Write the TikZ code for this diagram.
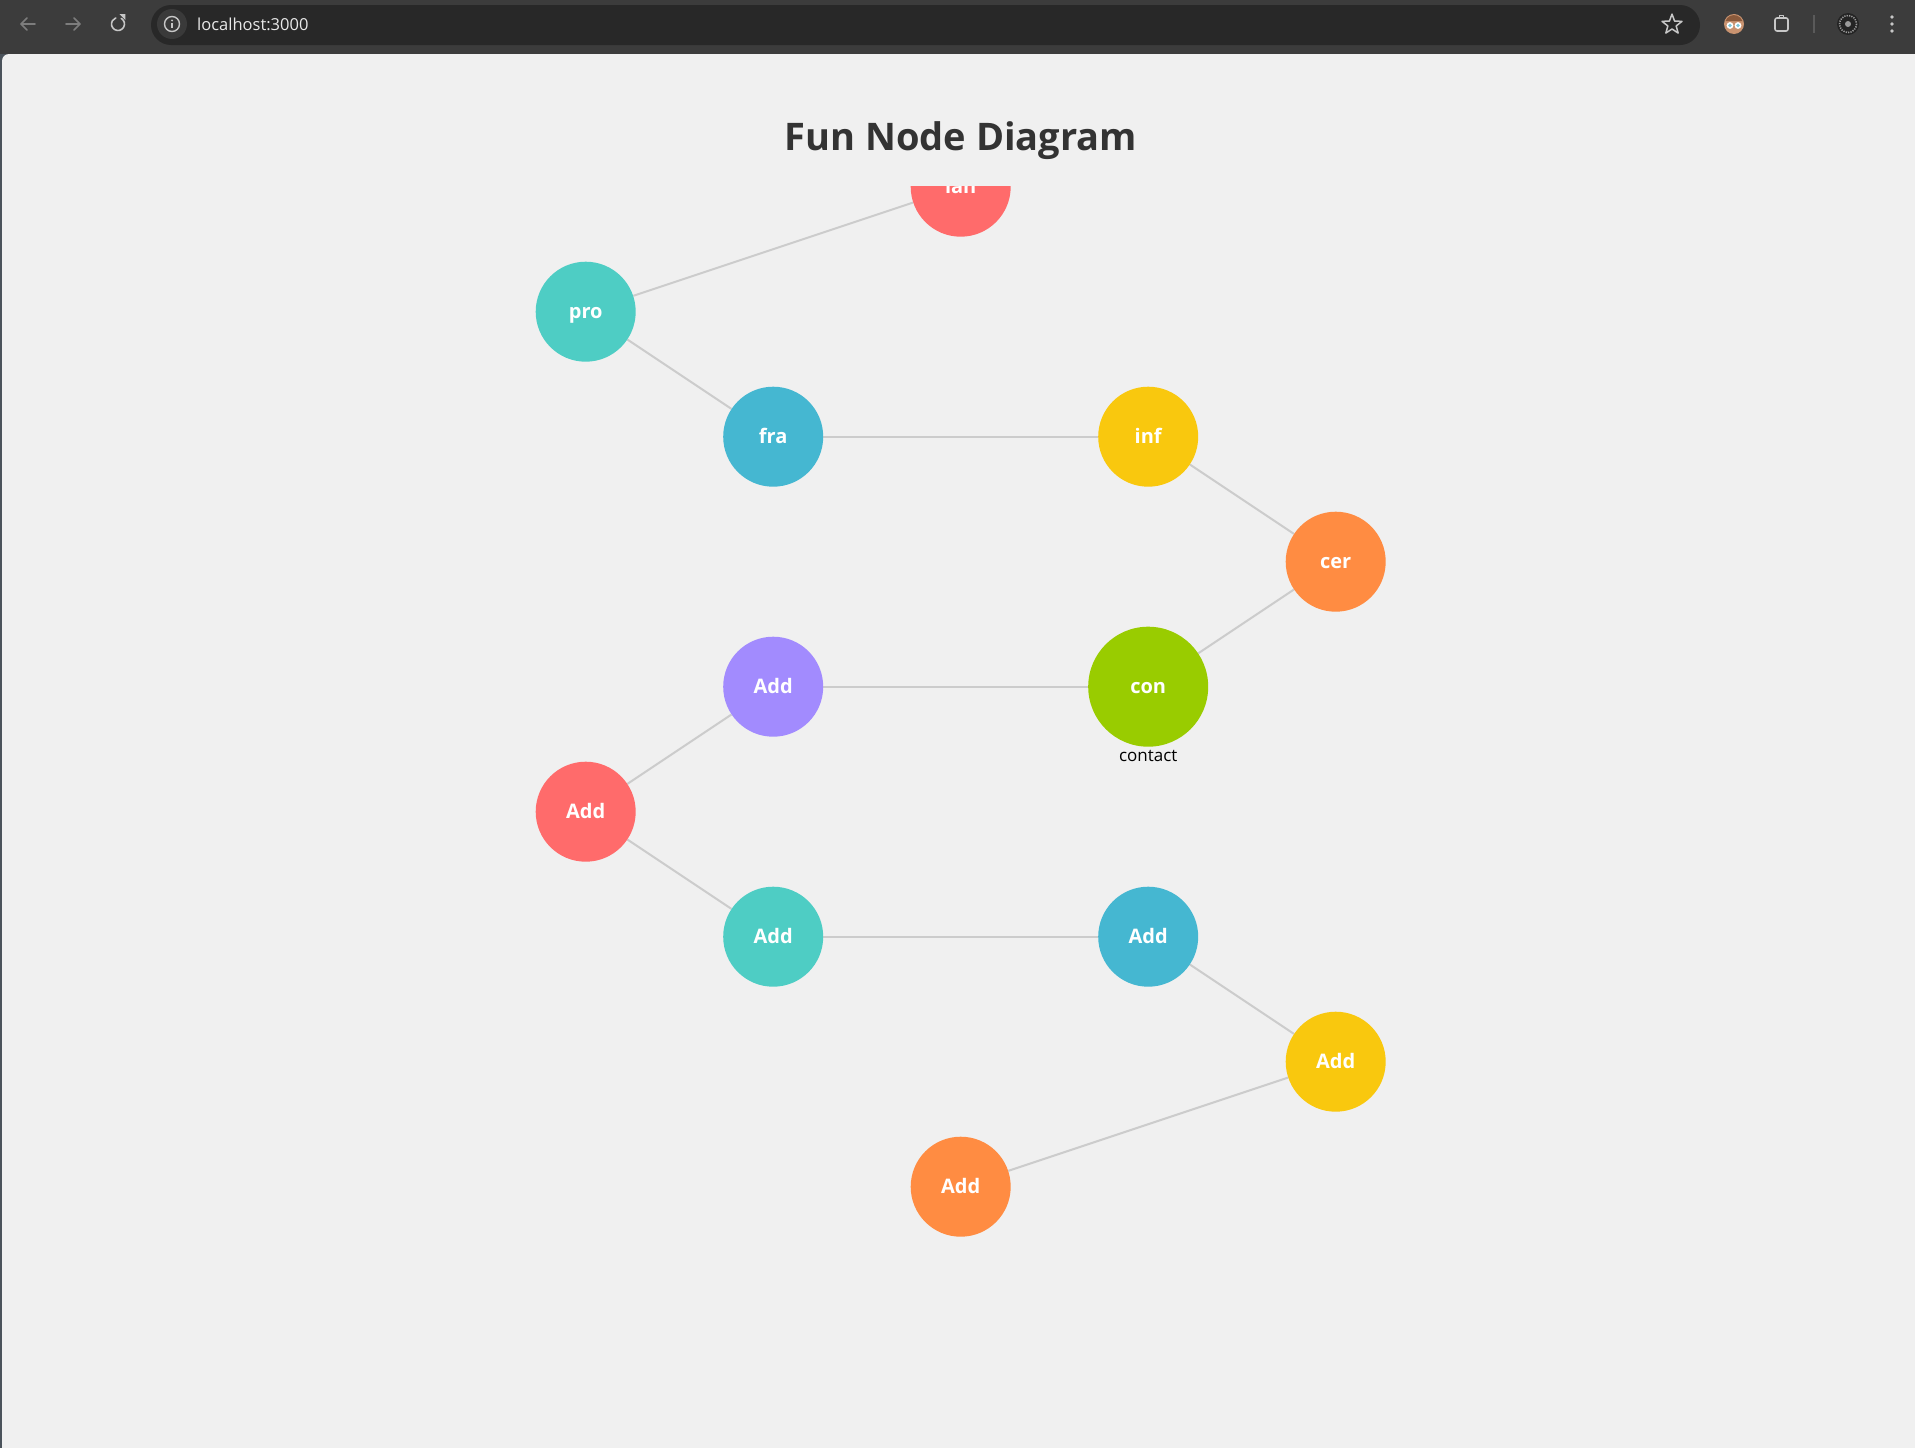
\documentclass[tikz,border=0pt]{standalone}
\usepackage{fontspec}
\setmainfont{Open Sans}
\usetikzlibrary{shapes.geometric}

% window chrome
\definecolor{chromebar}{HTML}{3C3C3C}
\definecolor{pillbg}{HTML}{282828}
\definecolor{infobg}{HTML}{3A3A3A}
\definecolor{icondim}{HTML}{7D7D7D}
\definecolor{iconlight}{HTML}{C7C7C7}
\definecolor{urltext}{HTML}{E8E8E8}
\definecolor{sepgray}{HTML}{5A5A5A}
\definecolor{frameedge}{HTML}{4B535B}
\definecolor{avatarskin}{HTML}{C99370}
\definecolor{avatarhair}{HTML}{8A5A3C}
\definecolor{lensblue}{HTML}{7FC6D8}
\definecolor{profiledark}{HTML}{242424}
\definecolor{profilering}{HTML}{9A9A9A}
% page
\definecolor{pagebg}{HTML}{F0F0F0}
\definecolor{titlegray}{HTML}{333333}
\definecolor{linkgray}{HTML}{CCCCCC}
% node fills
\definecolor{cred}{HTML}{FF6B6B}
\definecolor{cteal}{HTML}{4ECDC4}
\definecolor{cblue}{HTML}{45B7D1}
\definecolor{cyellow}{HTML}{F9C80E}
\definecolor{corange}{HTML}{FF8C42}
\definecolor{cpurple}{HTML}{A28BFE}
\definecolor{cgreen}{HTML}{99CC00}

\pgfdeclarelayer{backdrop}
\pgfdeclarelayer{edges}
\pgfsetlayers{backdrop,edges,main}

\begin{document}
\begin{tikzpicture}[x=1pt,y=-1pt,
  bubble/.style={circle, inner sep=0pt, minimum size=100pt, text=white,
    font=\bfseries\fontsize{20pt}{24pt}\selectfont, text height=13pt, text depth=0pt},
  bigbubble/.style={bubble, minimum size=120pt},
  link/.style={draw=linkgray, line width=2pt},
  chromeicon/.style={draw=iconlight, line width=1.6pt, line cap=round, line join=round},
  dimicon/.style={draw=icondim, line width=1.6pt, line cap=round, line join=round}]

\useasboundingbox (0,0) rectangle (1915,1448);

% ---- browser frame ----
\begin{pgfonlayer}{backdrop}
  \fill[chromebar] (0,0) rectangle (1915,54);
  \fill[frameedge] (0,54) rectangle (1915,1448);
  \fill[pagebg, rounded corners=7pt] (2,54) rectangle (1940,1470);
\end{pgfonlayer}

% address pill
\fill[pillbg, rounded corners=20pt] (151,5) rectangle (1700,45);

% back / forward / reload
\draw[dimicon] (35,24) -- (21,24) (27,18) -- (21,24) -- (27,30);
\draw[dimicon] (66,24) -- (80,24) (74,18) -- (80,24) -- (74,30);
\draw[chromeicon] ([shift={(-60:6.5)}]118,24) arc[start angle=-60, end angle=250, radius=6.5];
\fill[iconlight] (119.6,14.2) -- (125.4,14.2) -- (125.4,20) -- cycle;

% site info
\fill[infobg] (172,24) circle (15);
\draw[chromeicon, line width=1.4pt] (172,24) circle (7.5);
\fill[iconlight] (172,20.4) circle (1.1);
\draw[chromeicon, line width=1.6pt, line cap=butt] (172,22.8) -- (172,28.2);

\node[anchor=west, inner sep=0pt, text=urltext, font=\fontsize{16.5pt}{20pt}\selectfont]
  (url) at (197,24) {localhost:3000};

% bookmark star
\node[star, star points=5, star point ratio=2.4, draw=iconlight, line width=1.5pt,
  line join=round, minimum size=21pt, inner sep=0pt] (staricon) at (1672,24.6) {};

% avatar
\fill[avatarskin] (1734,24) circle (10);
\fill[avatarhair] (1734,24) ++(-8.5,-3) arc[start angle=200, end angle=340, radius=9];
\fill[white] (1730,25.5) circle (3.4) (1738,25.5) circle (3.4);
\fill[lensblue] (1730,25.5) circle (1.9) (1738,25.5) circle (1.9);

% extensions
\draw[chromeicon, rounded corners=2pt] (1775,18) rectangle (1788,31);
\draw[chromeicon] (1779.5,18) -- (1779.5,15.5) -- (1783.5,15.5) -- (1783.5,18);

% separator
\draw[sepgray, line width=1.2pt] (1814,15) -- (1814,33);

% profile
\fill[profiledark] (1848,24) circle (11);
\draw[profilering, line width=1.6pt, dash pattern=on 1.2pt off 1.2pt] (1848,24) circle (8.5);
\fill[profilering] (1848,24) circle (3);

% menu
\fill[iconlight] (1892,17) circle (1.9) (1892,24) circle (1.9) (1892,31) circle (1.9);

% ---- page ----
\node[anchor=base, inner sep=0pt, text=titlegray,
  font=\bfseries\fontsize{38pt}{45pt}\selectfont] (title) at (961,150) {Fun Node Diagram};

\begin{scope}
  \clip (0,186.7) rectangle (1915,1448);

  \node[bubble, fill=cred]       (lan)  at (960.7,186.7)  {lan};
  \node[bubble, fill=cteal]      (pro)  at (585.7,311.7)  {pro};
  \node[bubble, fill=cblue]      (fra)  at (773.2,436.7)  {fra};
  \node[bubble, fill=cyellow]    (inf)  at (1148.2,436.7) {inf};
  \node[bubble, fill=corange]    (cer)  at (1335.7,561.7) {cer};
  \node[bigbubble, fill=cgreen]  (con)  at (1148.2,686.7) {con};
  \node[bubble, fill=cpurple]    (addA) at (773.2,686.7)  {Add};
  \node[bubble, fill=cred]       (addB) at (585.7,811.7)  {Add};
  \node[bubble, fill=cteal]      (addC) at (773.2,936.7)  {Add};
  \node[bubble, fill=cblue]      (addD) at (1148.2,936.7) {Add};
  \node[bubble, fill=cyellow]    (addE) at (1335.7,1061.7) {Add};
  \node[bubble, fill=corange]    (addF) at (960.7,1186.7) {Add};

  \node[anchor=base, inner sep=0pt, text=black, font=\fontsize{17pt}{20pt}\selectfont]
    (conlabel) at (1148.2,761.7) {contact};
\end{scope}

\begin{pgfonlayer}{edges}
  \draw[link] (lan) -- (pro);
  \draw[link] (pro) -- (fra);
  \draw[link] (fra) -- (inf);
  \draw[link] (inf) -- (cer);
  \draw[link] (cer) -- (con);
  \draw[link] (con) -- (addA);
  \draw[link] (addA) -- (addB);
  \draw[link] (addB) -- (addC);
  \draw[link] (addC) -- (addD);
  \draw[link] (addD) -- (addE);
  \draw[link] (addE) -- (addF);
\end{pgfonlayer}
\end{tikzpicture}
\end{document}
